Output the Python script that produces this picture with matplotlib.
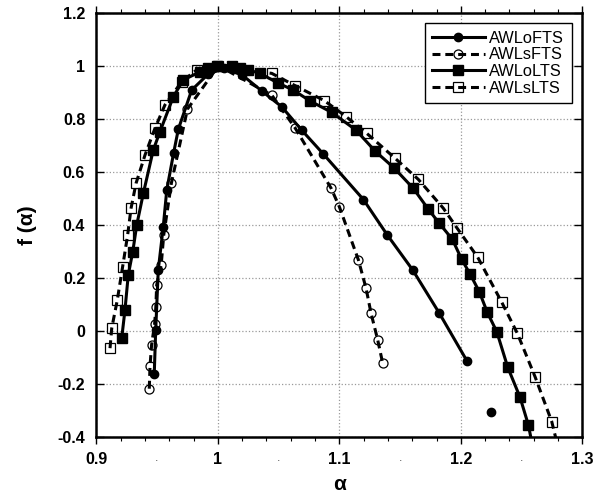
import matplotlib
matplotlib.use("Agg")
import matplotlib.pyplot as plt
from matplotlib.ticker import MultipleLocator

plt.rcParams["font.family"] = ["Liberation Sans", "DejaVu Sans"]

# AWLoFTS: solid line, filled circles
alpha_oFTS = [0.9477, 0.9489, 0.951, 0.9551, 0.958, 0.9637, 0.9675, 0.9785,
              0.992, 1.005, 1.02, 1.0361, 1.0526, 1.069, 1.0868, 1.1198,
              1.1395, 1.1604, 1.1823, 1.2049]
f_oFTS = [-0.162, 0.003, 0.229, 0.392, 0.531, 0.672, 0.76, 0.908,
          0.968, 0.99, 0.965, 0.905, 0.845, 0.757, 0.667, 0.495,
          0.361, 0.229, 0.066, -0.113]
# isolated point next to AWLoFTS
alpha_oFTS_extra = [1.2246]
f_oFTS_extra = [-0.306]

# AWLsFTS: dashed line, open circles
alpha_sFTS = [0.9436, 0.9442, 0.9455, 0.9480, 0.9490, 0.9497, 0.9534, 0.9555,
              0.9618, 0.9750, 1.0005, 1.0444, 1.0635, 1.0933, 1.1, 1.1157,
              1.122, 1.1261, 1.1316, 1.1357]
f_sFTS = [-0.219, -0.135, -0.054, 0.025, 0.089, 0.172, 0.248, 0.361,
          0.557, 0.836, 1.0, 0.889, 0.766, 0.537, 0.468, 0.267,
          0.16, 0.066, -0.035, -0.123]

# AWLoLTS: solid line, filled squares
alpha_oLTS = [0.9209, 0.9236, 0.9263, 0.930, 0.9333, 0.9387, 0.9469, 0.9524,
              0.9634, 0.9716, 0.9853, 0.9922, 0.9991, 1.0114, 1.0183, 1.0251,
              1.0347, 1.0498, 1.0621, 1.0759, 1.0937, 1.1137, 1.1294, 1.1453,
              1.1609, 1.1733, 1.1823, 1.193, 1.2007, 1.2076, 1.2152, 1.2218,
              1.2296, 1.2386, 1.2487, 1.2556, 1.2605]
f_oLTS = [-0.029, 0.078, 0.21, 0.298, 0.399, 0.518, 0.682, 0.751,
          0.883, 0.946, 0.977, 0.99, 1.0, 1.0, 0.99, 0.984,
          0.971, 0.934, 0.908, 0.867, 0.824, 0.757, 0.678, 0.613,
          0.537, 0.458, 0.405, 0.345, 0.269, 0.214, 0.147, 0.069,
          -0.004, -0.138, -0.251, -0.356, -0.47]

# AWLsLTS: dashed line, open squares
alpha_sLTS = [0.9113, 0.9127, 0.9173, 0.9217, 0.9258, 0.9286, 0.9327, 0.9401,
              0.9483, 0.9565, 0.9703, 0.9826, 1.0004, 1.0444, 1.0635, 1.0877,
              1.1055, 1.1225, 1.1458, 1.165, 1.1856, 1.1966, 1.2139, 1.2337,
              1.2465, 1.2611, 1.2748, 1.2795]
f_sLTS = [-0.066, 0.009, 0.116, 0.242, 0.361, 0.462, 0.556, 0.663,
          0.764, 0.852, 0.94, 0.984, 1.0, 0.971, 0.925, 0.868,
          0.808, 0.745, 0.651, 0.571, 0.462, 0.389, 0.277, 0.107,
          -0.01, -0.174, -0.343, -0.43]

x_ticks = [0.9, 1.0, 1.1, 1.2, 1.3]
y_ticks = [-0.4, -0.2, 0, 0.2, 0.4, 0.6, 0.8, 1.0, 1.2]
dot_marks = [0.95, 1.05, 1.15, 1.25]

fig = plt.figure(figsize=(6.11, 4.96), dpi=100)
ax = fig.add_axes([0.1576, 0.1196, 0.7955, 0.8548])

# dashed style used by the "s" series
dash = (0, (2.6, 1.6))
ax.plot(alpha_oFTS, f_oFTS, "-", color="black", lw=2.2, marker="o",
        ms=6, mfc="black", mec="black", label="AWLoFTS")
ax.plot(alpha_sFTS, f_sFTS, linestyle=dash, color="black", lw=2.2, marker="o",
        ms=6.5, mfc="none", mec="black", mew=0.9, label="AWLsFTS")
ax.plot(alpha_oLTS, f_oLTS, "-", color="black", lw=2.2, marker="s",
        ms=6.5, mfc="black", mec="black", label="AWLoLTS")
ax.plot(alpha_sLTS, f_sLTS, linestyle=dash, color="black", lw=2.2, marker="s",
        ms=7, mfc="none", mec="black", mew=0.9, label="AWLsLTS")
ax.plot(alpha_oFTS_extra, f_oFTS_extra, "o", color="black", ms=6)

ax.set_xlim(0.9, 1.3)
ax.set_ylim(-0.4, 1.2)
ax.set_xticks(x_ticks)
ax.set_yticks(y_ticks)
ax.set_xticklabels([f"{v:g}" for v in x_ticks], fontweight="bold", fontsize=11.5)
ax.set_yticklabels([f"{v:g}" for v in y_ticks], fontweight="bold", fontsize=11.5)
ax.xaxis.set_minor_locator(MultipleLocator(0.02))
ax.tick_params(axis="x", which="major", direction="out", length=5, width=1,
               top=True, bottom=True, pad=6)
ax.tick_params(axis="x", which="minor", direction="out", length=3, width=0.8,
               top=True, bottom=True)
ax.tick_params(axis="y", which="major", direction="in", length=6, width=1,
               left=True, right=True, pad=8)

ax.grid(True, which="major", color="#999999", linestyle=":", lw=0.9)
for sp in ax.spines.values():
    sp.set_linewidth(1.8)

# stray dots under the x axis, as in the original figure
for xv in dot_marks:
    ax.text(xv, -0.05, ".", transform=ax.get_xaxis_transform(),
            ha="center", va="center", fontsize=9, color="#555555")

ax.set_xlabel("α", fontsize=15, fontweight="bold", labelpad=6)
ax.set_ylabel("f (α)", fontsize=15, fontweight="bold", labelpad=15)

leg = ax.legend(loc="upper right", fontsize=11.8, handlelength=3.2,
                fancybox=False, edgecolor="black", framealpha=1,
                borderaxespad=0.65, labelspacing=0.1, handletextpad=0.3,
                borderpad=0.45)
leg.get_frame().set_linewidth(1.0)

fig.savefig("out.png", dpi=100)
